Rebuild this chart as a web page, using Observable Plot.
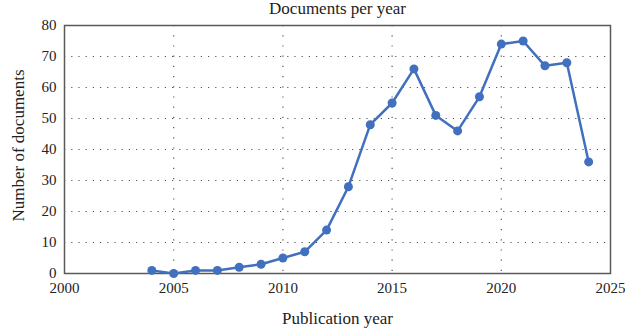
<!DOCTYPE html>
<html>
<head>
<meta charset="utf-8">
<script src="https://cdn.jsdelivr.net/npm/d3@7"></script>
<script src="https://cdn.jsdelivr.net/npm/@observablehq/plot@0.6"></script>
<style>
  html, body { margin: 0; padding: 0; background: #fff; }
  #chart svg { display: block; }
</style>
</head>
<body>
<div id="chart"></div>
<script>
const years = [2004, 2005, 2006, 2007, 2008, 2009, 2010, 2011, 2012, 2013, 2014, 2015, 2016, 2017, 2018, 2019, 2020, 2021, 2022, 2023, 2024];
const documents = [1, 0, 1, 1, 2, 3, 5, 7, 14, 28, 48, 55, 66, 51, 46, 57, 74, 75, 67, 68, 36];
const xTicks = [2000, 2005, 2010, 2015, 2020, 2025];
const yTicks = [0, 10, 20, 30, 40, 50, 60, 70, 80];
const title = "Documents per year";
const xLabel = "Publication year";
const yLabel = "Number of documents";

const data = years.map((y, i) => ({year: y, count: documents[i]}));
const color = "#4170be";
const font = "'Liberation Serif', 'DejaVu Serif', serif";

const chart = Plot.plot({
  width: 625,
  height: 329,
  marginLeft: 64,
  marginRight: 15,
  marginTop: 25,
  marginBottom: 56,
  style: {fontFamily: font, fontSize: "15px", color: "#222", background: "#fff"},
  x: {domain: [2000, 2025], label: null},
  y: {domain: [0, 80], label: null},
  marks: [
    Plot.ruleY(yTicks.slice(1, -1), {stroke: "#555", strokeWidth: 1.2, strokeDasharray: "1.2,6"}),
    Plot.ruleX(xTicks.slice(1, -1), {stroke: "#555", strokeWidth: 1.2, strokeDasharray: "1.2,9"}),
    Plot.frame({stroke: "#5a5a5a", strokeWidth: 1.5}),
    Plot.axisX({ticks: xTicks, tickFormat: d => String(d), tickSize: 0, tickPadding: 9, label: null, fontSize: 15}),
    Plot.axisY({ticks: yTicks, tickSize: 0, tickPadding: 8, label: null, fontSize: 15}),
    Plot.line(data, {x: "year", y: "count", stroke: color, strokeWidth: 2.5}),
    Plot.dot(data, {x: "year", y: "count", fill: color, r: 4.5}),
    Plot.text([title], {frameAnchor: "top", dy: -24, fontSize: 17, fill: "#222"}),
    Plot.text([xLabel], {frameAnchor: "bottom", dy: 50, fontSize: 17, fill: "#222"}),
    Plot.text([yLabel], {frameAnchor: "left", textAnchor: "middle", dx: -46, dy: -4, rotate: -90, fontSize: 17, fill: "#222"})
  ]
});
document.getElementById("chart").appendChild(chart);
</script>
</body>
</html>
